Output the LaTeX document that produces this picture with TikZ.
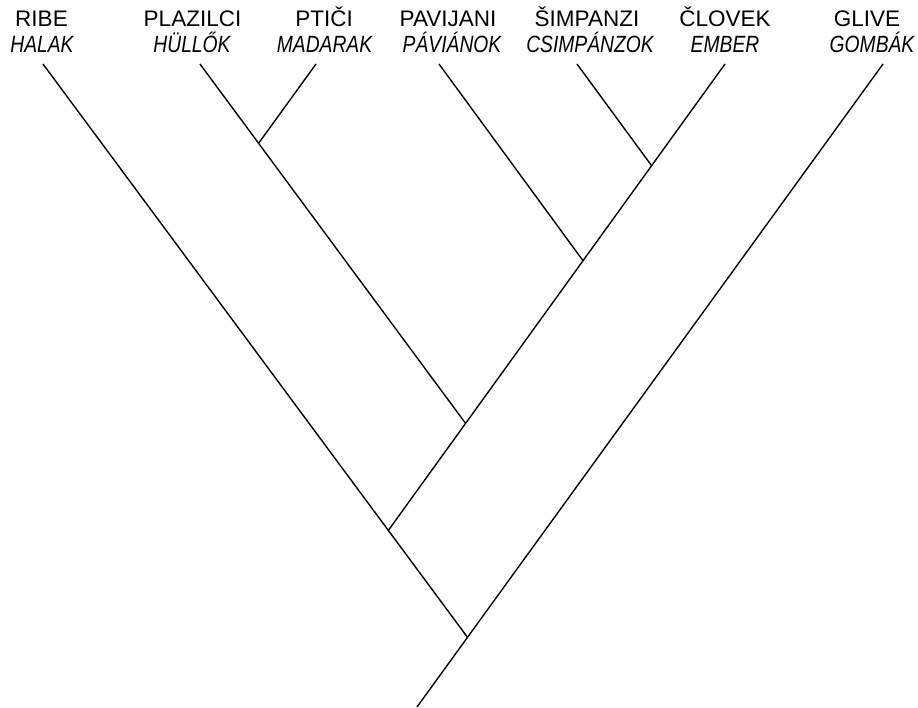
\documentclass[tikz,border=0pt]{standalone}
\usepackage{fontspec}
\setmainfont{Liberation Sans}
\newfontfamily\narrowfont{Liberation Sans}[FakeStretch=0.82]
\usetikzlibrary{calc}

\begin{document}
\begin{tikzpicture}[
  x=1pt,y=-1pt,
  branch/.style={line width=1.4pt,draw=black},
  taxon/.style={anchor=base,inner sep=0pt,font=\fontsize{22.5}{27}\selectfont},
  hutaxon/.style={anchor=base,inner sep=0pt,font=\narrowfont\itshape\fontsize{23.5}{28}\selectfont}
]
\useasboundingbox (0,0) rectangle (918,707);

% -------------------------------------------------------------------------
% taxa names (Slovene above, Hungarian below)
% -------------------------------------------------------------------------
\foreach \n/\xa/\xb/\si/\hu in {ribe/41.5/42/RIBE/HALAK,
    plazilci/192.5/192/PLAZILCI/HÜLLŐK,
    ptici/324/324.5/PTIČI/MADARAK,
    pavijani/448/452/PAVIJANI/PÁVIÁNOK,
    simpanzi/587/590/ŠIMPANZI/CSIMPÁNZOK,
    clovek/725/725/ČLOVEK/EMBER,
    glive/867/872/GLIVE/GOMBÁK}
  {\node[taxon] (\n) at (\xa,26.5) {\si};
   \node[hutaxon] (\n-hu) at (\xb,52.5) {\hu};}

% -------------------------------------------------------------------------
% tips and branching points
% -------------------------------------------------------------------------
\coordinate (tRibe) at (43,64);
\coordinate (tPlazilci) at (200,64);
\coordinate (tPtici) at (316,64);
\coordinate (tPavijani) at (439,64);
\coordinate (tSimpanzi) at (577,64);
\coordinate (tClovek) at (725,64);
\coordinate (tGlive) at (883,64);
\coordinate (root) at (417,707);

\coordinate (jRoot) at ($(tGlive)!(467,637)!(root)$);
\coordinate (jFish) at ($(tRibe)!(389,530)!(jRoot)$);
\coordinate (jRep) at ($(tClovek)!(465,423)!(jFish)$);
\coordinate (jPav) at ($(tClovek)!(582,260)!(jFish)$);
\coordinate (jChimp) at ($(tClovek)!(652,166)!(jFish)$);
\coordinate (jBird) at ($(tPlazilci)!(259,143)!(jRep)$);

\foreach \a/\b in {tGlive/root,tRibe/jRoot,tClovek/jFish,tPlazilci/jRep,
    tPtici/jBird,tPavijani/jPav,tSimpanzi/jChimp}
  {\draw[branch] (\a) -- (\b);}
\end{tikzpicture}
\end{document}
